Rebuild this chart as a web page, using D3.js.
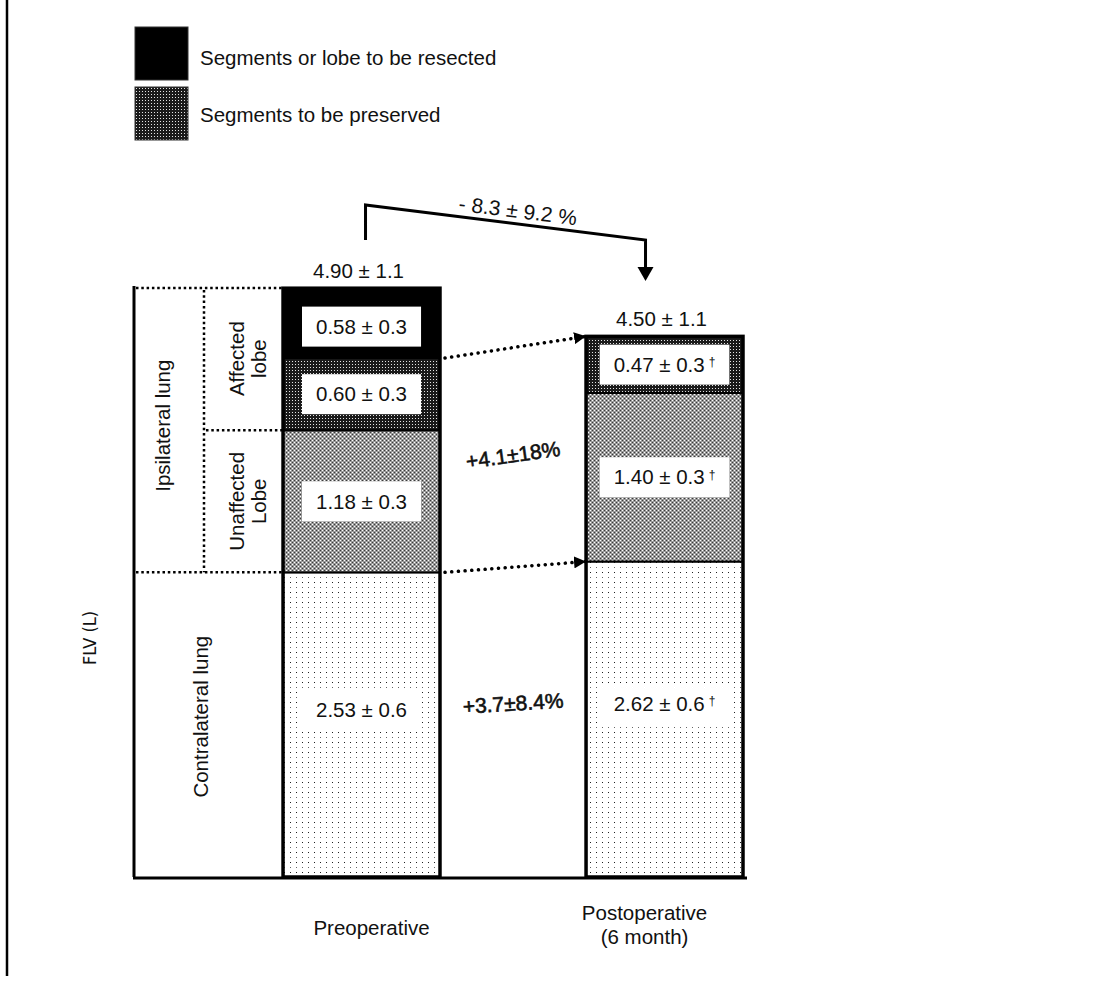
<!DOCTYPE html>
<html>
<head>
<meta charset="utf-8">
<script src="https://cdn.jsdelivr.net/npm/d3@7"></script>
<style>
  body { margin: 0; background: #fff; }
  svg text { font-family: "Liberation Sans", Arial, sans-serif; fill: #111; }
</style>
</head>
<body>
<svg id="chart" width="1107" height="982"></svg>
<script>
// ---- data: functional lung volume (L), mean ± SD ----
const categories = ["Preoperative", "Postoperative"];
const categorySubLabels = ["", "(6 month)"];
const segmentKeys = ["contralateral", "unaffected", "affectedPreserved", "resected"];
const contralateral = [2.53, 2.62];
const unaffectedLobe = [1.18, 1.40];
const affectedPreserved = [0.60, 0.47];
const resected = [0.58, 0];
const contralateralSD = [0.6, 0.6];
const unaffectedSD = [0.3, 0.3];
const affectedPreservedSD = [0.3, 0.3];
const resectedSD = [0.3, 0];
const significant = [false, true];
const totals = [4.90, 4.50];
const totalSD = [1.1, 1.1];
const totalChange = "- 8.3 ± 9.2 %";
const ipsilateralChange = "+4.1±18%";
const contralateralChange = "+3.7±8.4%";
const legendLabels = ["Segments or lobe to be resected", "Segments to be preserved"];
const axisTitle = "FLV (L)";

const svg = d3.select("#chart");
const font = "Liberation Sans, Arial, sans-serif";
const fs = 20.5;

// ---- fill patterns ----
const defs = svg.append("defs");
const pDark = defs.append("pattern").attr("id", "darkDots")
  .attr("patternUnits", "userSpaceOnUse").attr("width", 3).attr("height", 3);
pDark.append("rect").attr("width", 3).attr("height", 3).attr("fill", "#1a1a1a");
pDark.append("rect").attr("x", 1).attr("y", 1).attr("width", 1).attr("height", 1).attr("fill", "#e4e4e4");

const pCross = defs.append("pattern").attr("id", "crossHatch")
  .attr("patternUnits", "userSpaceOnUse").attr("width", 4).attr("height", 4);
pCross.append("rect").attr("width", 4).attr("height", 4).attr("fill", "#9a9a9a");
[[0, 0], [2, 2]].forEach(([px, py]) => pCross.append("rect").attr("x", px).attr("y", py)
  .attr("width", 1).attr("height", 1).attr("fill", "#ffffff"));
[[2, 0], [0, 2]].forEach(([px, py]) => pCross.append("rect").attr("x", px).attr("y", py)
  .attr("width", 1).attr("height", 1).attr("fill", "#3a3a3a"));

const pLight = defs.append("pattern").attr("id", "lightDots")
  .attr("patternUnits", "userSpaceOnUse").attr("width", 6).attr("height", 10);
pLight.append("rect").attr("width", 6).attr("height", 10).attr("fill", "#ffffff");
pLight.append("rect").attr("x", 2).attr("y", 2).attr("width", 1).attr("height", 1).attr("fill", "#1e1e1e");
pLight.append("rect").attr("x", 2).attr("y", 7).attr("width", 1).attr("height", 1).attr("fill", "#666");

const fills = {
  contralateral: "url(#lightDots)",
  unaffected: "url(#crossHatch)",
  affectedPreserved: "url(#darkDots)",
  resected: "#000"
};
const sds = { contralateral: contralateralSD, unaffected: unaffectedSD,
  affectedPreserved: affectedPreservedSD, resected: resectedSD };
// vertical anchor of each value label within its segment
const labelAnchor = { contralateral: 0.55, unaffected: 0.5, affectedPreserved: 0.5, resected: 0.45 };

// arrow markers
defs.append("marker").attr("id", "arrowHead").attr("viewBox", "0 0 10 10")
  .attr("refX", 10).attr("refY", 5).attr("markerWidth", 12).attr("markerHeight", 12)
  .attr("markerUnits", "userSpaceOnUse").attr("orient", "auto")
  .append("path").attr("d", "M0,0 L10,5 L0,10 Z").attr("fill", "#000");

// ---- scales ----
const x = d3.scaleBand().domain(categories).range([133, 743])
  .paddingInner(0.482).paddingOuter(0.2476).align(1);
const y = d3.scaleLinear().domain([0, totals[0]]).range([877, 287]);
const xLabel = d3.scalePoint().domain(categories).range([371, 644]);

const rows = categories.map((c, i) => ({
  category: c,
  contralateral: contralateral[i],
  unaffected: unaffectedLobe[i],
  affectedPreserved: affectedPreserved[i],
  resected: resected[i]
}));
const series = d3.stack().keys(segmentKeys)(rows);

// ---- outer frame line ----
svg.append("line").attr("x1", 7).attr("x2", 7).attr("y1", 0).attr("y2", 976)
  .attr("stroke", "#000").attr("stroke-width", 2.5);

// ---- legend ----
const legend = svg.append("g");
[["#000", legendLabels[0], 27, 65], ["url(#darkDots)", legendLabels[1], 87, 122]].forEach(([f, t, ty, tb]) => {
  legend.append("rect").attr("x", 135).attr("y", ty).attr("width", 53).attr("height", 53)
    .attr("fill", f).attr("stroke", "#333").attr("stroke-width", 1);
  legend.append("text").attr("x", 200).attr("y", tb).attr("font-size", fs).text(t);
});

// ---- left region table ----
const table = svg.append("g");
const barLeft = x(categories[0]);
const yTop = y(totals[0]);
const yContra = y(contralateral[0]);
const yUnaff = y(contralateral[0] + unaffectedLobe[0]);
const dotted = sel => sel.attr("stroke", "#000").attr("stroke-width", 2.5).attr("stroke-dasharray", "2.5 2.8");
table.append("line").attr("x1", 134).attr("x2", 134).attr("y1", yTop - 1).attr("y2", y(0))
  .attr("stroke", "#000").attr("stroke-width", 3);
table.append("line").attr("x1", 136).attr("x2", barLeft).attr("y1", yTop + 1).attr("y2", yTop + 1).call(dotted);
table.append("line").attr("x1", 204).attr("x2", 204).attr("y1", yTop + 3).attr("y2", yContra).call(dotted);
table.append("line").attr("x1", 206).attr("x2", barLeft).attr("y1", yUnaff).attr("y2", yUnaff).call(dotted);
table.append("line").attr("x1", 136).attr("x2", barLeft).attr("y1", yContra).attr("y2", yContra).call(dotted);

const vText = (cx, cy, lines, size) => {
  const t = table.append("text").attr("transform", `translate(${cx},${cy}) rotate(-90)`)
    .attr("text-anchor", "middle").attr("font-size", size);
  const lh = size * 1.08;
  lines.forEach((l, i) => t.append("tspan").attr("x", 0)
    .attr("y", (i - (lines.length - 1) / 2) * lh).attr("dy", "0.35em").text(l));
};
vText(163, (yTop + yContra) / 2 - 4, ["Ipsilateral lung"], fs);
vText(248, (yTop + yUnaff) / 2, ["Affected", "lobe"], fs);
vText(248, (yUnaff + yContra) / 2, ["Unaffected", "Lobe"], fs);
vText(201, (yContra + y(0)) / 2 - 8, ["Contralateral lung"], fs);

// y-axis title
svg.append("text").attr("transform", "translate(90,638) rotate(-90)")
  .attr("text-anchor", "middle").attr("dy", "0.35em")
  .style("font-family", "'Liberation Sans Narrow', 'DejaVu Sans Condensed', sans-serif")
  .attr("font-size", 18).text(axisTitle);

// ---- stacked bars ----
const bars = svg.append("g");
series.forEach(s => {
  bars.selectAll(null).data(s.filter(d => d[1] - d[0] > 0)).join("rect")
    .attr("x", d => x(d.data.category))
    .attr("width", x.bandwidth())
    .attr("y", d => y(d[1]))
    .attr("height", d => y(d[0]) - y(d[1]))
    .attr("fill", fills[s.key])
    .attr("stroke", "#000").attr("stroke-width", 2);
});
// bar outlines
bars.selectAll(null).data(rows).join("rect")
  .attr("x", d => x(d.category)).attr("width", x.bandwidth())
  .attr("y", d => y(d3.sum(segmentKeys, k => d[k])))
  .attr("height", d => y(0) - y(d3.sum(segmentKeys, k => d[k])))
  .attr("fill", "none").attr("stroke", "#000").attr("stroke-width", 3.5);

// value labels on white boxes
const labels = svg.append("g");
series.forEach(s => {
  s.forEach((d, i) => {
    const v = d[1] - d[0];
    if (v <= 0) return;
    const cx = x(d.data.category) + x.bandwidth() / 2;
    const cy = y(d[0] + v * labelAnchor[s.key]);
    const g = labels.append("g");
    const box = g.append("rect").attr("fill", "#fff");
    const t = g.append("text").attr("x", cx).attr("y", cy).attr("dy", "0.35em")
      .attr("text-anchor", "middle").attr("font-size", fs);
    t.append("tspan").text(`${v.toFixed(2)} ± ${sds[s.key][i]}`);
    if (significant[i]) t.append("tspan").attr("dx", 4).attr("dy", "-0.45em").attr("font-size", 12).text("†");
    const bb = t.node().getBBox();
    box.attr("x", bb.x - 14).attr("y", cy - 20).attr("width", bb.width + 28).attr("height", 40);
  });
});

// totals above bars
rows.forEach((d, i) => {
  const top = y(d3.sum(segmentKeys, k => d[k]));
  svg.append("text").attr("x", x(d.category) + x.bandwidth() / 2 - 3).attr("y", top - 10)
    .attr("text-anchor", "middle").attr("font-size", fs)
    .text(`${totals[i].toFixed(2)} ± ${totalSD[i]}`);
});

// ---- change annotations ----
const preC = x(categories[0]) + x.bandwidth() / 2;
const postC = x(categories[1]) + x.bandwidth() / 2;
const bx0 = preC + 4, bx1 = postC - 19, byL = 205, byR = 240;
svg.append("path").attr("d", `M${bx0},240 V${byL} L${bx1},${byR} V268`)
  .attr("fill", "none").attr("stroke", "#000").attr("stroke-width", 3);
svg.append("path").attr("d", `M${bx1 - 8},267 L${bx1 + 8},267 L${bx1},281 Z`).attr("fill", "#000");
const ang = Math.atan2(byR - byL, bx1 - bx0) * 180 / Math.PI;
const tx = 517, ty = byL + (tx - bx0) / (bx1 - bx0) * (byR - byL) - 6;
svg.append("text").attr("transform", `translate(${tx},${ty}) rotate(${ang})`)
  .attr("text-anchor", "middle").attr("font-size", 21).text(totalChange);

const preRight = x(categories[0]) + x.bandwidth();
const postLeft = x(categories[1]);
const arrowDots = sel => sel.attr("stroke", "#000").attr("stroke-width", 3.5)
  .attr("stroke-linecap", "round").attr("stroke-dasharray", "0.1 6.6")
  .attr("marker-end", "url(#arrowHead)");
svg.append("line").attr("x1", preRight + 5).attr("y1", y(contralateral[0] + unaffectedLobe[0] + affectedPreserved[0]))
  .attr("x2", postLeft).attr("y2", y(contralateral[1] + unaffectedLobe[1] + affectedPreserved[1]))
  .call(arrowDots);
svg.append("line").attr("x1", preRight + 5).attr("y1", y(contralateral[0]))
  .attr("x2", postLeft).attr("y2", y(contralateral[1]))
  .call(arrowDots);

const midX = (preRight + postLeft) / 2;
const pctStyle = sel => sel.attr("text-anchor", "middle").attr("dy", "0.35em").attr("font-size", 21)
  .style("stroke", "#111").style("stroke-width", 0.6);
svg.append("text").attr("transform", `translate(${midX},${y(contralateral[1] + (unaffectedLobe[1] + affectedPreserved[1]) / 2) + 6}) rotate(-8)`)
  .call(pctStyle).text(ipsilateralChange);
svg.append("text").attr("transform", `translate(${midX},${y(contralateral[0] * 0.57)}) rotate(-3.5)`)
  .call(pctStyle).text(contralateralChange);

// ---- baseline axis and category labels ----
svg.append("line").attr("x1", 133).attr("x2", 747).attr("y1", y(0) + 1).attr("y2", y(0) + 1)
  .attr("stroke", "#000").attr("stroke-width", 3);
const axis = svg.append("g").attr("transform", `translate(0,${y(0)})`)
  .call(d3.axisBottom(xLabel).tickSize(0).tickPadding(0));
axis.select(".domain").remove();
axis.selectAll(".tick text").remove();
axis.selectAll(".tick").each(function (c, i) {
  const t = d3.select(this).append("text").attr("text-anchor", "middle")
    .attr("font-size", fs).attr("fill", "#111").style("font-family", font);
  if (categorySubLabels[i]) {
    t.append("tspan").attr("x", 0).attr("y", 43).text(c);
    t.append("tspan").attr("x", 0).attr("y", 67).text(categorySubLabels[i]);
  } else {
    t.append("tspan").attr("x", 0).attr("y", 58).text(c);
  }
});
</script>
</body>
</html>
